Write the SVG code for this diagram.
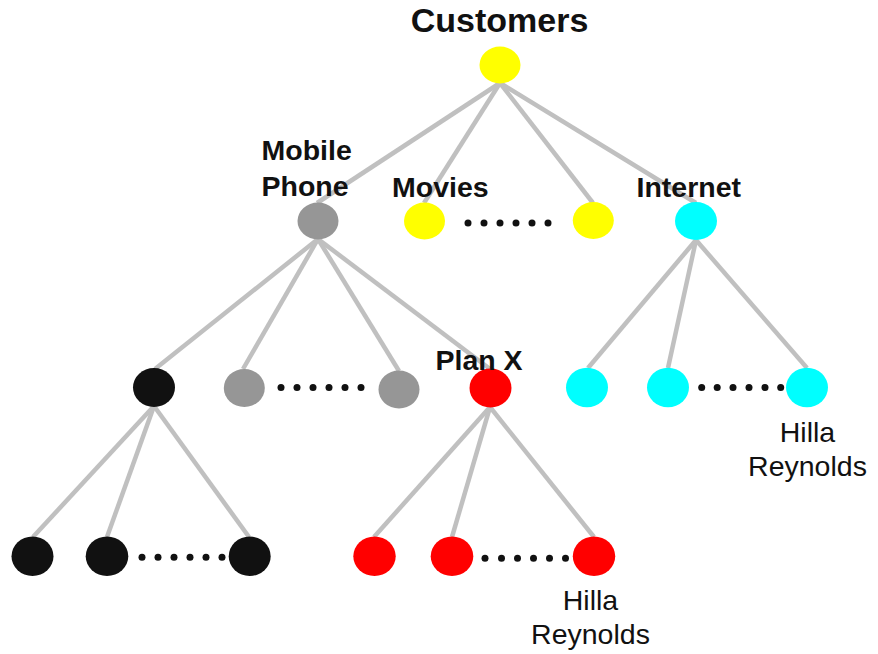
<svg xmlns="http://www.w3.org/2000/svg" width="878" height="654" viewBox="0 0 878 654">
<style>
.edge{stroke:#c0c0c0;stroke-width:4.5;stroke-linecap:butt;fill:none}
.yellow{fill:#ffff00}
.gray{fill:#969696}
.black{fill:#111111}
.red{fill:#ff0000}
.cyan{fill:#00ffff}
.dot{fill:#111111}
.lbl{font-family:"Liberation Sans",Arial,sans-serif;font-weight:bold;font-size:28.5px;fill:#111111}
.name{font-family:"Liberation Sans",Arial,sans-serif;font-size:28.5px;fill:#111111;text-anchor:middle}
</style>
<rect width="878" height="654" fill="#ffffff"/>
<g id="connectors">
<line class="edge" x1="500" y1="83" x2="317" y2="203"/>
<line class="edge" x1="500" y1="83" x2="424" y2="203"/>
<line class="edge" x1="500" y1="83" x2="593" y2="203"/>
<line class="edge" x1="500" y1="83" x2="696" y2="203"/>
<line class="edge" x1="318" y1="239" x2="155" y2="369"/>
<line class="edge" x1="318" y1="239" x2="243" y2="369"/>
<line class="edge" x1="318" y1="239" x2="399" y2="371"/>
<line class="edge" x1="318" y1="239" x2="490" y2="369"/>
<line class="edge" x1="696" y1="240" x2="588" y2="368"/>
<line class="edge" x1="696" y1="240" x2="668" y2="368"/>
<line class="edge" x1="696" y1="240" x2="807" y2="368"/>
<line class="edge" x1="154" y1="406" x2="33" y2="537"/>
<line class="edge" x1="154" y1="406" x2="107" y2="537"/>
<line class="edge" x1="154" y1="406" x2="249" y2="537"/>
<line class="edge" x1="490" y1="407" x2="374" y2="537"/>
<line class="edge" x1="490" y1="407" x2="452" y2="537"/>
<line class="edge" x1="490" y1="407" x2="594" y2="537"/>
</g>
<g id="customers">
<ellipse class="yellow" cx="500" cy="65" rx="20.5" ry="18.5"/>
<text class="lbl" x="499.5" y="32" text-anchor="middle" style="font-size:34px">Customers</text>
</g>
<g id="mobile-phone">
<ellipse class="gray" cx="318" cy="221" rx="20.5" ry="18.5"/>
<text class="lbl" x="261.5" y="160">Mobile</text>
<text class="lbl" x="261.5" y="196">Phone</text>
</g>
<g id="movies">
<ellipse class="yellow" cx="424.5" cy="221" rx="20.5" ry="18.5"/>
<text class="lbl" x="392" y="197">Movies</text>
</g>
<g id="movies-dots">
<circle class="dot" cx="468" cy="223" r="3.5"/>
<circle class="dot" cx="484" cy="223" r="3.5"/>
<circle class="dot" cx="500" cy="223" r="3.5"/>
<circle class="dot" cx="516" cy="223" r="3.5"/>
<circle class="dot" cx="532" cy="223" r="3.5"/>
<circle class="dot" cx="548" cy="223" r="3.5"/>
</g>
<g id="movies-last">
<ellipse class="yellow" cx="593.3" cy="220.5" rx="20.5" ry="18.5"/>
</g>
<g id="internet">
<ellipse class="cyan" cx="696" cy="221" rx="21" ry="19"/>
<text class="lbl" x="636.5" y="197">Internet</text>
</g>
<g id="mp-child-black">
<ellipse class="black" cx="154" cy="387.5" rx="21" ry="19.5"/>
</g>
<g id="mp-child-gray1">
<ellipse class="gray" cx="244.3" cy="388" rx="20.5" ry="19"/>
</g>
<g id="mp-gray-dots">
<circle class="dot" cx="281" cy="387.5" r="3.5"/>
<circle class="dot" cx="297" cy="387.5" r="3.5"/>
<circle class="dot" cx="313" cy="387.5" r="3.5"/>
<circle class="dot" cx="329" cy="387.5" r="3.5"/>
<circle class="dot" cx="345" cy="387.5" r="3.5"/>
<circle class="dot" cx="361" cy="387.5" r="3.5"/>
</g>
<g id="mp-child-gray2">
<ellipse class="gray" cx="399" cy="389.5" rx="20.5" ry="19"/>
</g>
<g id="plan-x">
<ellipse class="red" cx="490.5" cy="388" rx="21" ry="19.5"/>
<text class="lbl" x="435.5" y="370">Plan X</text>
</g>
<g id="internet-child1">
<ellipse class="cyan" cx="587" cy="387.5" rx="21" ry="19.8"/>
</g>
<g id="internet-child2">
<ellipse class="cyan" cx="668" cy="387.5" rx="21" ry="19.8"/>
</g>
<g id="internet-dots">
<circle class="dot" cx="701.7" cy="387.5" r="3.5"/>
<circle class="dot" cx="717.2" cy="387.5" r="3.5"/>
<circle class="dot" cx="733" cy="387.5" r="3.5"/>
<circle class="dot" cx="749" cy="387.5" r="3.5"/>
<circle class="dot" cx="765" cy="387.5" r="3.5"/>
<circle class="dot" cx="780.7" cy="387.5" r="3.5"/>
</g>
<g id="internet-hilla">
<ellipse class="cyan" cx="807" cy="387.5" rx="21" ry="19.8"/>
<text class="name" x="807.5" y="442">Hilla</text>
<text class="name" x="807.5" y="476">Reynolds</text>
</g>
<g id="black-child1">
<ellipse class="black" cx="32.5" cy="556.3" rx="21" ry="19.7"/>
</g>
<g id="black-child2">
<ellipse class="black" cx="107" cy="556.3" rx="21.3" ry="19.7"/>
</g>
<g id="black-dots">
<circle class="dot" cx="142" cy="557.3" r="3.5"/>
<circle class="dot" cx="158" cy="557.3" r="3.5"/>
<circle class="dot" cx="174" cy="557.3" r="3.5"/>
<circle class="dot" cx="190" cy="557.3" r="3.5"/>
<circle class="dot" cx="206" cy="557.3" r="3.5"/>
<circle class="dot" cx="222" cy="557.3" r="3.5"/>
</g>
<g id="black-child3">
<ellipse class="black" cx="249.7" cy="556.3" rx="21" ry="19.7"/>
</g>
<g id="red-child1">
<ellipse class="red" cx="374.5" cy="556.3" rx="21.2" ry="19.7"/>
</g>
<g id="red-child2">
<ellipse class="red" cx="452" cy="556.3" rx="21.3" ry="19.7"/>
</g>
<g id="red-dots">
<circle class="dot" cx="485" cy="558.3" r="3.5"/>
<circle class="dot" cx="501.5" cy="558.3" r="3.5"/>
<circle class="dot" cx="517.5" cy="558.3" r="3.5"/>
<circle class="dot" cx="533.5" cy="558.3" r="3.5"/>
<circle class="dot" cx="549.5" cy="558.3" r="3.5"/>
<circle class="dot" cx="565.5" cy="558.3" r="3.5"/>
</g>
<g id="red-hilla">
<ellipse class="red" cx="594" cy="556.3" rx="21.2" ry="19.7"/>
<text class="name" x="590.5" y="610">Hilla</text>
<text class="name" x="590.5" y="644">Reynolds</text>
</g>
</svg>
